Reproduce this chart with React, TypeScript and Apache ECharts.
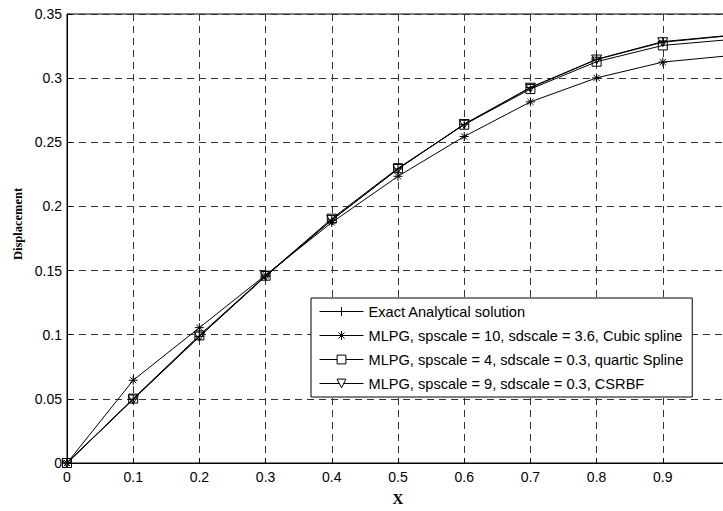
import React, { useEffect, useRef } from "react";
import * as echarts from "echarts";

const xValues = [0, 0.1, 0.2, 0.3, 0.4, 0.5, 0.6, 0.7, 0.8, 0.9, 1.0];
const exactValues = [0, 0.0498, 0.0987, 0.1455, 0.1893, 0.2292, 0.264, 0.2928, 0.3147, 0.3285, 0.3333];
const cubicValues = [0, 0.0645, 0.1055, 0.1465, 0.1875, 0.2235, 0.2545, 0.2815, 0.3002, 0.3125, 0.3175];
const quarticValues = [0, 0.0502, 0.0995, 0.146, 0.1905, 0.2298, 0.2637, 0.2915, 0.3128, 0.3255, 0.33];
const csrbfValues = [0, 0.0495, 0.0985, 0.1458, 0.1895, 0.2292, 0.2642, 0.2925, 0.3145, 0.328, 0.333];
const seriesNames = [
  "Exact Analytical solution",
  "MLPG, spscale = 10, sdscale = 3.6, Cubic spline",
  "MLPG, spscale = 4, sdscale = 0.3, quartic Spline",
  "MLPG, spscale = 9, sdscale = 0.3, CSRBF",
];
const xAxisTitle = "X";
const yAxisTitle = "Displacement";

const plusPath = "path://M0,5L10,5M5,0L5,10";
const starPath = "path://M0,5L10,5M5,0L5,10M1.6,1.6L8.4,8.4M1.6,8.4L8.4,1.6";
const squarePath = "path://M0,0L10,0L10,10L0,10Z";
const triPath = "path://M0,0L10,0L5,9Z";

const CHART_W = 740;

export default function App() {
  const ref = useRef<HTMLDivElement>(null);
  useEffect(() => {
    if (!ref.current) return;
    const chart = echarts.init(ref.current, undefined, { renderer: "svg" });
    const mk = (name: string, vals: number[], symbol: string, size: number) => ({
      name,
      type: "line",
      data: xValues.map((x, i) => [x, vals[i]]),
      symbol,
      symbolSize: size,
      symbolKeepAspect: true,
      showAllSymbol: true,
      lineStyle: { color: "#000", width: 1 },
      itemStyle: { color: "rgba(255,255,255,0)", borderColor: "#000", borderWidth: 1 },
      emphasis: { disabled: true },
      z: 3,
    });
    chart.setOption({
      animation: false,
      grid: {
        left: 67,
        top: 14,
        height: 453,
        right: CHART_W - 729,
        show: true,
        borderColor: "#000",
        borderWidth: 1,
        backgroundColor: "transparent",
      },
      xAxis: {
        type: "value",
        min: 0,
        max: 1,
        interval: 0.1,
        name: xAxisTitle,
        nameLocation: "middle",
        nameGap: 28,
        nameTextStyle: { fontFamily: "Liberation Serif", fontWeight: "bold", fontSize: 15, color: "#000" },
        axisLine: { show: true, lineStyle: { color: "#000", width: 1 } },
        axisTick: { show: true, inside: true, length: 5, lineStyle: { color: "#000" } },
        axisLabel: { color: "#000", fontFamily: "Liberation Sans", fontSize: 14, margin: 7, showMaxLabel: false },
        splitLine: { show: true, lineStyle: { color: "#333", type: [7, 5], width: 1 } },
      },
      yAxis: {
        type: "value",
        min: 0,
        max: 0.35,
        interval: 0.05,
        axisLine: { show: true, lineStyle: { color: "#000", width: 1 } },
        axisTick: { show: true, inside: true, length: 5, lineStyle: { color: "#000" } },
        axisLabel: { color: "#000", fontFamily: "Liberation Sans", fontSize: 14, margin: 5 },
        splitLine: { show: true, lineStyle: { color: "#333", type: [7, 5], width: 1 } },
      },
      legend: {
        orient: "vertical",
        left: 311,
        top: 298,
        itemWidth: 44,
        itemHeight: 11,
        itemGap: 9,
        padding: [6, 9, 6, 8],
        backgroundColor: "#fff",
        borderColor: "#000",
        borderWidth: 1,
        selectedMode: false,
        itemStyle: { borderWidth: 1, color: "#fff", borderColor: "#000" },
        lineStyle: { width: 1, color: "#000" },
        textStyle: { color: "#000", fontFamily: "Liberation Sans", fontSize: 14.6 },
        data: seriesNames,
      },
      graphic: [
        {
          type: "text",
          x: 18,
          y: 224,
          rotation: Math.PI / 2,
          style: {
            text: yAxisTitle,
            fill: "#000",
            font: "bold 12.5px 'Liberation Serif'",
            align: "center",
            verticalAlign: "middle",
          },
        },
      ],
      series: [
        mk(seriesNames[0], exactValues, plusPath, 9),
        mk(seriesNames[1], cubicValues, starPath, 9),
        mk(seriesNames[2], quarticValues, squarePath, 9),
        mk(seriesNames[3], csrbfValues, triPath, 10),
      ],
    });
    return () => chart.dispose();
  }, []);
  return (
    <div style={{ position: "fixed", left: 0, top: 0, width: 723, height: 511, overflow: "hidden", background: "#fff" }}>
      <div ref={ref} style={{ width: CHART_W, height: 511 }} />
    </div>
  );
}
